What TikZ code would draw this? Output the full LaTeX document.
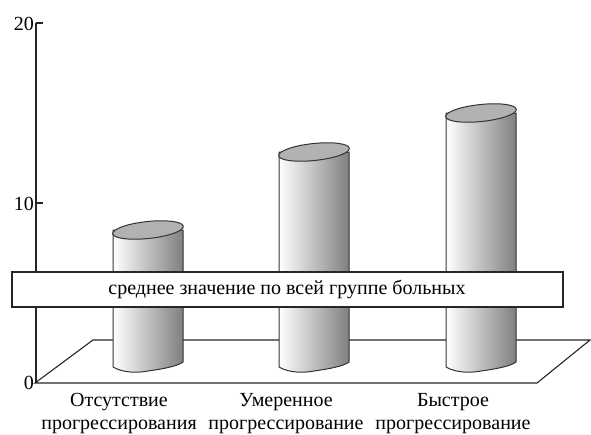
\documentclass[tikz,border=0pt]{standalone}
\usepackage{fontspec}
\setmainfont{Liberation Serif}
\newfontfamily\rmru{Liberation Serif}
\usepackage{tikz}
\usetikzlibrary{positioning}

\begin{document}
\begin{tikzpicture}[x=1pt,y=-1pt,
  line/.style={line width=1.1pt,black!85},
  body/.style={line width=1pt,draw=black!80,left color=white,middle color=black!12,right color=black!50},
  lid/.style={line width=1pt,draw=black!80,fill=black!30},
  lbl/.style={font=\rmru\fontsize{20}{24}\selectfont,inner sep=0pt},
  cat/.style={font=\rmru\fontsize{20}{23}\selectfont,align=center,inner sep=0pt,anchor=north}]
\useasboundingbox (0,0) rectangle (591,434);
% floor
\draw[line,fill=white] (35,383) -- (93,340) -- (590,340) -- (537,383) -- cycle;
% axis
\draw[line] (36,23) -- (36,383);
\draw[line] (36,23) -- (43,23);
\draw[line] (36,203) -- (43,203);
\node[lbl,anchor=east] (t20) at (34,24) {20};
\node[lbl,anchor=east] (t10) at (34,204) {10};
\node[lbl,anchor=east] (t0) at (34,383) {0};
% bars
\draw[body] (113,230) -- (113,367) .. controls (123,373) and (138,373) .. (148,371) .. controls (163,369) and (178,366) .. (183,362) -- (183,230) -- cycle;
\draw[lid,rotate around={6:(148,230)}] (148,230) ellipse [x radius=35.5,y radius=8.5];
\draw[body] (279,152) -- (279,367) .. controls (289,373) and (304,373) .. (314,371) .. controls (329,369) and (344,366) .. (349,362) -- (349,152) -- cycle;
\draw[lid,rotate around={6:(314,152)}] (314,152) ellipse [x radius=35.5,y radius=8.5];
\draw[body] (446,113) -- (446,367) .. controls (456,373) and (471,373) .. (481,371) .. controls (496,369) and (511,366) .. (516,362) -- (516,113) -- cycle;
\draw[lid,rotate around={6:(481,113)}] (481,113) ellipse [x radius=35.5,y radius=8.5];
% banner
\draw[line,fill=white] (12,272) rectangle (563,307);
\node[lbl] (mean) at (287,289) {среднее значение по всей группе больных};
% categories
\node[cat] (c1) at (119,393) {Отсутствие\\прогрессирования};
\node[cat] (c2) at (286,393) {Умеренное\\прогрессирование};
\node[cat] (c3) at (453,393) {Быстрое\\прогрессирование};
\end{tikzpicture}
\end{document}
